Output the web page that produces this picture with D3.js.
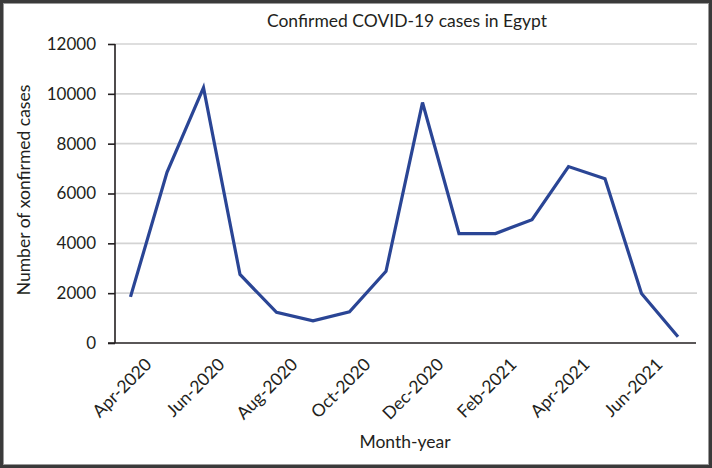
<!DOCTYPE html>
<html>
<head>
<meta charset="utf-8">
<script src="https://cdn.jsdelivr.net/npm/d3@7"></script>
<style>
  html, body { margin: 0; padding: 0; background: #fff; }
  svg { display: block; }
  text { font-family: Lato, "Open Sans", sans-serif; fill: #231f20; }
</style>
</head>
<body>
<svg id="chart" width="712" height="468"></svg>
<script>
const months = ["Apr-2020","May-2020","Jun-2020","Jul-2020","Aug-2020","Sep-2020","Oct-2020","Nov-2020","Dec-2020","Jan-2021","Feb-2021","Mar-2021","Apr-2021","May-2021","Jun-2021","Jul-2021"];
const cases = [1850, 6850, 10250, 2750, 1230, 890, 1250, 2880, 9650, 4390, 4390, 4950, 7080, 6590, 1990, 250];
const xTickLabels = ["Apr-2020","Jun-2020","Aug-2020","Oct-2020","Dec-2020","Feb-2021","Apr-2021","Jun-2021"];
const yTicks = [0, 2000, 4000, 6000, 8000, 10000, 12000];

const svg = d3.select("#chart");
const W = 712, H = 468;
const pLeft = 115, pRight = 697, pTop = 44, pBottom = 343;

// frame
svg.append("rect").attr("x", 1.5).attr("y", 1.5).attr("width", W - 3).attr("height", H - 3)
  .attr("fill", "none").attr("stroke", "#3a3a3a").attr("stroke-width", 3);
svg.append("rect").attr("x", 3.5).attr("y", 3.5).attr("width", W - 7).attr("height", H - 7)
  .attr("fill", "none").attr("stroke", "#9a9a9a").attr("stroke-width", 1);

const x = d3.scalePoint().domain(months).range([130.5, 678]);
const y = d3.scaleLinear().domain([0, 12000]).range([pBottom, pTop]);

// gridlines
svg.append("g").selectAll("line").data(yTicks.filter(d => d > 0)).join("line")
  .attr("x1", pLeft).attr("x2", pRight)
  .attr("y1", d => y(d)).attr("y2", d => y(d))
  .attr("stroke", "#d3d3d3").attr("stroke-width", 1.6);

// y axis
const yAxis = d3.axisLeft(y).tickValues(yTicks).tickSize(7).tickPadding(12).tickFormat(d3.format("d"));
const gy = svg.append("g").attr("transform", `translate(${pLeft},0)`).call(yAxis);
gy.select(".domain").attr("stroke", "#231f20").attr("stroke-width", 1.6).attr("d", `M0,${pTop}V${pBottom}`);
gy.selectAll(".tick line").attr("stroke", "#231f20").attr("stroke-width", 1.6);
gy.selectAll(".tick text").attr("font-size", 17).attr("font-family", "Lato, 'Open Sans', sans-serif").attr("fill", "#231f20");

// x axis
const xAxis = d3.axisBottom(x).tickValues(xTickLabels).tickSize(0).tickPadding(0);
const gx = svg.append("g").attr("transform", `translate(0,${pBottom})`).call(xAxis);
gx.select(".domain").attr("stroke", "#231f20").attr("stroke-width", 1.6).attr("d", `M${pLeft - 7},0H${pRight - 1}`);
gx.selectAll(".tick text")
  .attr("font-size", 17.5).attr("font-family", "Lato, 'Open Sans', sans-serif").attr("fill", "#231f20")
  .attr("text-anchor", "end")
  .attr("dy", "0.7em")
  .attr("transform", "translate(13,14) rotate(-45)");

// line
const line = d3.line().x((d, i) => x(months[i])).y(d => y(d));
svg.append("path").datum(cases)
  .attr("fill", "none").attr("stroke", "#2a4595").attr("stroke-width", 3.2)
  .attr("stroke-linejoin", "miter").attr("d", line);

// titles
svg.append("text").attr("x", 407).attr("y", 27).attr("text-anchor", "middle")
  .attr("font-size", 17.5).text("Confirmed COVID-19 cases in Egypt");
svg.append("text").attr("x", 405).attr("y", 448).attr("text-anchor", "middle")
  .attr("font-size", 17.5).text("Month-year");
svg.append("text").attr("transform", "translate(30,190) rotate(-90)").attr("text-anchor", "middle")
  .attr("font-size", 17.5).text("Number of xonfirmed cases");
</script>
</body>
</html>
